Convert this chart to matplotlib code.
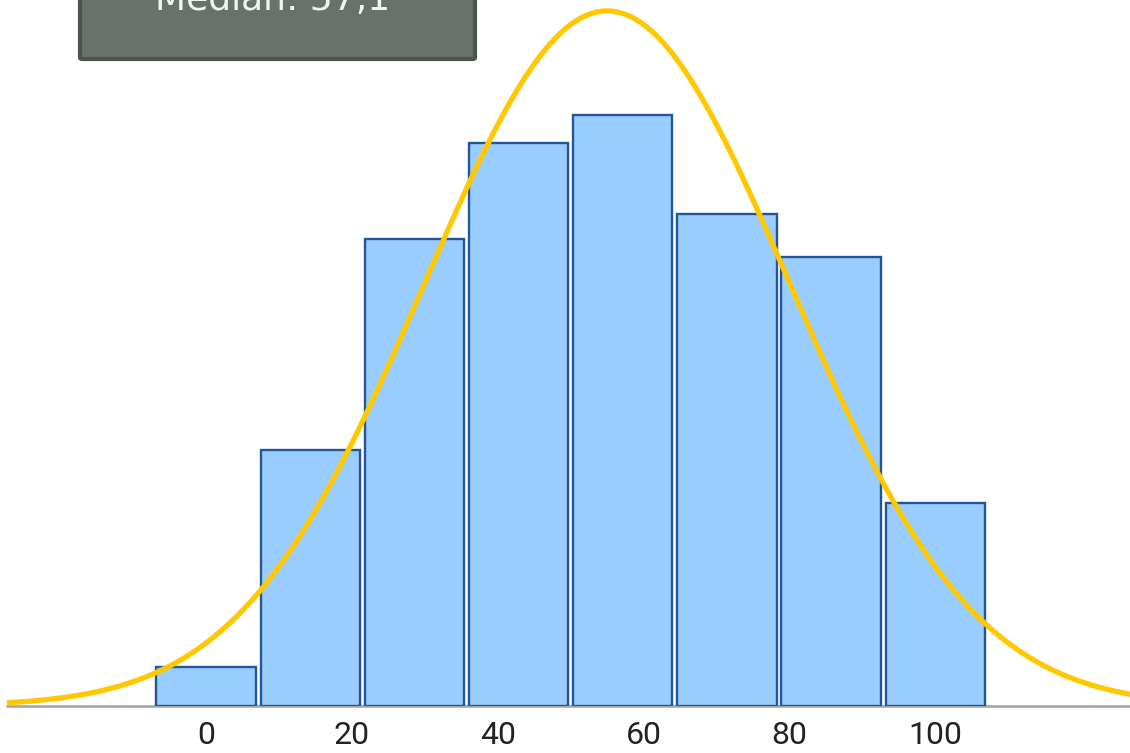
import numpy as np
import matplotlib
matplotlib.use("Agg")
import matplotlib.pyplot as plt
from matplotlib.patches import FancyBboxPatch

# Histogram data: bin centres and bar heights
bin_centers = [0.0, 14.29, 28.57, 42.86, 57.14, 71.43, 85.71, 100.0]
counts = [2.0, 13.0, 23.7, 28.6, 30.0, 25.0, 22.8, 10.3]
bin_width = 100 / 7

# Fitted normal curve parameters
curve_mean = 55.0
curve_sd = 25.1

tick_values = [0, 20, 40, 60, 80, 100]
tick_labels = ["0", "20", "40", "60", "80", "100"]
median_label = "Median: 57,1"

W, H = 1130, 753
fig = plt.figure(figsize=(W / 100, H / 100), dpi=100)
fig.patch.set_facecolor("white")

ax = fig.add_axes([7 / W, 47 / H, 1 - 7 / W, 706 / H])
ax.set_xlim(-27.3, 126.7)
ax.set_ylim(0, 706 / 19.7)

ax.bar(bin_centers, counts, width=bin_width * 0.955, color="#99ccff",
       edgecolor="#235599", linewidth=1.7, zorder=2)

xs = np.linspace(-30, 130, 600)
n_total = sum(counts)
density = np.exp(-0.5 * ((xs - curve_mean) / curve_sd) ** 2) / (curve_sd * np.sqrt(2 * np.pi))
ax.plot(xs, n_total * bin_width * density, color="#ffc800", linewidth=3.8,
        zorder=3, solid_capstyle="round")

for side in ["left", "right", "top"]:
    ax.spines[side].set_visible(False)
ax.spines["bottom"].set_color("#a3a3a3")
ax.spines["bottom"].set_linewidth(1.8)
ax.spines["bottom"].set_zorder(1)

ax.set_yticks([])
ax.set_xticks(tick_values)
ax.set_xticklabels(tick_labels, family=["Roboto", "DejaVu Sans"],
                   fontsize=23, color="#222222")
ax.tick_params(axis="x", length=0, pad=11)

# Median annotation box at the top left
box = FancyBboxPatch((80 / W, 1 - 59 / H), 395 / W, 80 / H,
                     boxstyle="round,pad=0,rounding_size=0.002",
                     transform=fig.transFigure, facecolor="#68726a",
                     edgecolor="#4a534c", linewidth=3.0, clip_on=False, zorder=5)
fig.patches.append(box)
fig.text(273 / W, 1 - 10 / H, median_label, ha="center", va="baseline",
         fontsize=26, color="#f2f2f2", family="DejaVu Sans", zorder=6)

fig.savefig("out.png", dpi=100, facecolor="white")
